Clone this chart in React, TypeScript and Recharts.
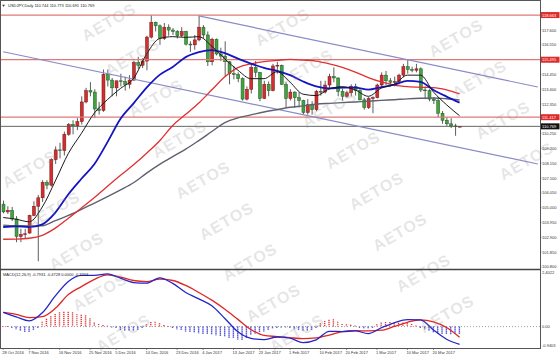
import React from 'react';
import { ComposedChart, Bar, Line, XAxis, YAxis, ReferenceLine } from 'recharts';

// USDJPY daily bars, 28 Oct 2016 .. 28 Mar 2017
const open = [105.25, 104.7, 104.8, 104.2, 102.95, 103.1, 103.2, 104.45, 105.1, 105.7, 106.8, 106.6, 108.4, 109.1, 109.05, 110.2, 110.9, 110.8, 111.1, 112.5, 113.3, 113.2, 112.0, 111.9, 114.45, 114.05, 113.5, 114.0, 113.95, 113.75, 114.05, 115.3, 115.1, 115.4, 117.1, 118.15, 117.9, 117.0, 117.8, 117.6, 117.5, 117.2, 117.5, 116.6, 116.55, 116.9, 117.8, 117.25, 115.35, 116.95, 115.9, 115.75, 115.35, 114.5, 114.45, 114.15, 112.7, 113.4, 114.95, 114.6, 112.75, 113.75, 113.3, 115.05, 115.1, 113.75, 112.75, 113.2, 112.8, 112.6, 111.75, 112.3, 111.95, 113.25, 113.2, 113.7, 114.3, 114.2, 113.25, 112.9, 113.15, 113.6, 113.3, 112.65, 112.1, 112.75, 112.8, 113.7, 114.4, 114.0, 113.9, 113.95, 114.4, 115.0, 114.8, 114.75, 114.85, 113.35, 113.3, 112.7, 112.6, 111.7, 111.2, 110.95, 110.8, 110.744];
const high = [105.5, 105.1, 105.05, 104.4, 103.5, 103.5, 104.5, 105.45, 105.9, 106.95, 106.95, 108.5, 109.35, 109.6, 110.4, 111.0, 111.2, 111.35, 112.9, 113.5, 113.9, 113.4, 112.5, 114.8, 114.8, 114.2, 114.0, 114.5, 114.3, 114.4, 115.4, 115.7, 115.6, 117.2, 118.66, 118.2, 118.0, 118.1, 118.0, 117.75, 117.6, 117.8, 117.55, 116.8, 117.25, 118.6, 117.95, 117.5, 117.05, 117.0, 116.35, 116.8, 115.4, 115.05, 114.6, 114.25, 113.6, 115.2, 115.4, 114.6, 114.0, 113.95, 115.2, 115.35, 115.15, 113.9, 113.4, 113.25, 113.2, 112.65, 112.7, 112.55, 113.35, 114.0, 114.0, 114.5, 114.95, 114.25, 113.45, 113.3, 113.75, 113.8, 113.4, 112.8, 112.85, 112.9, 113.8, 114.6, 114.7, 114.2, 114.3, 114.5, 115.2, 115.5, 115.0, 115.2, 114.95, 113.6, 113.4, 112.85, 112.8, 111.85, 111.4, 111.35, 110.95, 110.773];
const low = [104.6, 104.55, 104.05, 102.55, 102.55, 102.8, 103.15, 104.4, 101.2, 105.4, 106.3, 106.5, 108.1, 108.5, 108.7, 110.1, 110.2, 110.5, 110.9, 112.4, 112.9, 111.35, 111.6, 111.8, 113.6, 112.9, 112.9, 113.6, 113.3, 113.45, 114.0, 114.85, 114.9, 114.75, 117.0, 117.5, 116.55, 116.9, 117.2, 117.25, 117.0, 117.1, 116.5, 116.05, 116.2, 116.8, 117.0, 115.05, 115.1, 115.8, 115.4, 114.3, 113.75, 114.1, 113.9, 112.6, 112.6, 113.1, 114.25, 112.55, 112.7, 112.9, 113.25, 114.5, 113.7, 112.1, 112.6, 112.1, 112.1, 111.6, 111.6, 111.6, 111.85, 112.95, 113.1, 113.4, 113.9, 112.9, 112.6, 112.8, 112.9, 112.95, 112.6, 111.95, 112.0, 111.7, 112.75, 113.55, 113.7, 113.6, 113.6, 113.75, 114.25, 114.5, 114.6, 114.6, 113.2, 112.7, 112.55, 112.35, 111.4, 110.95, 110.8, 110.65, 110.1, 110.691];
const close = [104.7, 104.8, 104.2, 102.95, 103.1, 103.15, 104.45, 105.1, 105.7, 106.8, 106.6, 108.4, 109.1, 109.05, 110.2, 110.9, 110.8, 111.1, 112.5, 113.3, 113.2, 112.0, 111.9, 114.45, 114.05, 113.5, 114.0, 113.95, 113.75, 114.05, 115.3, 115.1, 115.4, 117.1, 118.15, 117.9, 117.0, 117.8, 117.6, 117.5, 117.2, 117.5, 116.6, 116.55, 116.9, 117.8, 117.25, 115.35, 116.95, 115.9, 115.75, 115.35, 114.5, 114.45, 114.15, 112.7, 113.4, 114.95, 114.6, 112.75, 113.75, 113.3, 115.05, 115.1, 113.75, 112.75, 113.2, 112.8, 112.6, 111.75, 112.3, 111.95, 113.25, 113.2, 113.7, 114.3, 114.2, 113.25, 112.9, 113.15, 113.6, 113.3, 112.65, 112.1, 112.75, 112.8, 113.7, 114.4, 114.0, 113.9, 113.95, 114.4, 115.0, 114.8, 114.75, 114.85, 113.35, 113.3, 112.7, 112.6, 111.7, 111.2, 110.95, 110.8, 110.74, 110.769];

// moving averages, read every third bar
const maStep = 3;
const maFast = [104.3, 104.18, 104.0, 105.05, 106.9, 108.85, 110.27, 111.72, 112.67, 113.46, 114.17, 115.9, 117.0, 117.13, 117.08, 117.13, 116.45, 115.55, 114.75, 114.15, 114.15, 114.64, 113.9, 113.05, 112.95, 113.42, 113.58, 113.35, 112.9, 113.48, 113.75, 114.4, 114.4, 113.2, 112.3, 111.52];
const maMid = [103.63, 103.68, 103.62, 103.82, 104.65, 105.95, 107.05, 108.1, 109.65, 111.3, 112.4, 113.52, 114.42, 114.98, 115.68, 116.03, 116.18, 115.96, 115.57, 115.22, 114.92, 114.71, 114.4, 113.95, 113.6, 113.46, 113.52, 113.52, 113.37, 113.55, 113.72, 114.0, 113.93, 113.35, 112.88, 112.45];
const maSlow = [102.76, 102.77, 102.83, 103.04, 103.55, 104.25, 104.98, 105.72, 106.52, 107.3, 108.04, 108.86, 109.75, 110.83, 111.62, 112.42, 113.36, 114.28, 114.93, 115.2, 115.36, 115.45, 115.52, 115.47, 115.4, 115.2, 114.95, 114.62, 114.23, 113.92, 113.7, 113.59, 113.54, 113.52, 113.36, 113.07];
const maLong = [103.76, 103.72, 103.71, 103.72, 104.08, 104.45, 104.88, 105.32, 105.78, 106.26, 106.77, 107.45, 108.07, 108.62, 109.15, 109.76, 110.4, 111.03, 111.37, 111.58, 111.79, 111.95, 112.12, 112.22, 112.34, 112.4, 112.45, 112.5, 112.55, 112.61, 112.66, 112.72, 112.76, 112.78, 112.73, 112.64];

// MACD(12,26,9)
const macdLine = [0.63, 0.43, 0.25, 0.61, 1.36, 2.0, 2.27, 2.27, 2.33, 2.14, 1.95, 1.92, 2.16, 1.91, 1.51, 1.23, 0.92, 0.36, -0.23, -0.52, -0.58, -0.46, -0.51, -0.71, -0.59, -0.21, -0.22, -0.19, -0.31, -0.05, 0.17, 0.31, 0.3, -0.15, -0.56, -0.79];
const signalLine = [0.63, 0.54, 0.4, 0.44, 0.81, 1.42, 1.77, 2.09, 2.29, 2.19, 2.04, 1.99, 2.1, 2.04, 1.82, 1.51, 1.17, 0.77, 0.32, -0.13, -0.39, -0.44, -0.49, -0.53, -0.5, -0.38, -0.22, -0.18, -0.19, -0.16, 0.01, 0.19, 0.3, 0.21, -0.04, -0.47];
const macdHist = [0.03, 0.02, -0.05, -0.12, -0.2, -0.26, -0.25, -0.15, -0.05, 0.22, 0.35, 0.46, 0.56, 0.63, 0.66, 0.66, 0.63, 0.55, 0.52, 0.5, 0.37, 0.18, 0.12, 0.07, 0.04, -0.02, -0.08, -0.15, -0.19, -0.2, -0.19, -0.15, -0.08, 0.1, 0.2, 0.22, 0.15, 0.07, 0.03, -0.07, -0.12, -0.16, -0.22, -0.25, -0.27, -0.29, -0.32, -0.33, -0.36, -0.38, -0.41, -0.45, -0.49, -0.52, -0.57, -0.59, -0.52, -0.37, -0.3, -0.25, -0.22, -0.17, -0.1, -0.05, -0.02, -0.03, -0.07, -0.12, -0.16, -0.19, -0.2, -0.15, -0.05, 0.15, 0.25, 0.3, 0.32, 0.22, 0.12, 0.1, 0.08, 0.05, -0.05, -0.1, -0.1, -0.05, 0.1, 0.18, 0.2, 0.2, 0.18, 0.17, 0.18, 0.18, 0.12, 0.05, -0.05, -0.12, -0.2, -0.27, -0.3, -0.33, -0.35, -0.36, -0.34, -0.32];

const dateTickBars = [0, 6, 13, 20, 26, 33, 40, 46, 53, 59, 66, 73, 79, 86, 93, 99];
const dateTicks = ['28 Oct 2016', '7 Nov 2016', '16 Nov 2016', '25 Nov 2016', '5 Dec 2016', '14 Dec 2016', '23 Dec 2016', '4 Jan 2017', '13 Jan 2017', '23 Jan 2017', '1 Feb 2017', '10 Feb 2017', '20 Feb 2017', '1 Mar 2017', '10 Mar 2017', '20 Mar 2017'];

const priceTicks = [117.6, 116.55, 114.45, 113.4, 112.35, 110.25, 109.2, 108.15, 107.1, 106.05, 105.0, 103.95, 102.9, 101.85, 100.8];
const levels = [118.663, 115.495, 111.417];
const lastPrice = 110.769;
const channelUpper = [{ bar: 45, price: 118.6 }, { bar: 123, price: 113.56 }];
const channelLower = [{ bar: 0, price: 116.06 }, { bar: 123, price: 108.1 }];
const macdTicks = [2.4022, 0, -0.9403];

const totalSlots = 124; // bars plus the empty shift area on the right

const rows = Array.from({ length: totalSlots }, (_, i) => {
  const has = i < close.length;
  const m = i % maStep === 0 ? i / maStep : -1;
  const pick = (arr: number[]) => (m >= 0 && m < arr.length ? arr[m] : null);
  return {
    i,
    range: has ? [low[i], high[i]] : null,
    o: has ? open[i] : null,
    h: has ? high[i] : null,
    l: has ? low[i] : null,
    c: has ? close[i] : null,
    fast: pick(maFast),
    mid: pick(maMid),
    slow: pick(maSlow),
    long: pick(maLong),
    macd: pick(macdLine),
    sig: pick(signalLine),
    hist: has ? macdHist[i] : null,
  };
});

const FONT = '"Liberation Sans", Arial, sans-serif';

const Candle = (props: any) => {
  const { x, y, width, height, payload } = props;
  if (!payload || payload.o == null) return null;
  const { o, h, l, c } = payload;
  const ppu = h - l > 0 ? height / (h - l) : 0;
  const yO = y + (h - o) * ppu;
  const yC = y + (h - c) * ppu;
  const cx = x + width / 2;
  const up = c >= o;
  const top = Math.min(yO, yC);
  const bh = Math.max(Math.abs(yC - yO), 0.8);
  return (
    <g>
      <line x1={cx} x2={cx} y1={y} y2={y + height} stroke="#333" strokeWidth={0.8} />
      <rect x={cx - 1.5} y={top} width={3} height={bh}
        fill={up ? '#cf2f2f' : '#43a043'} stroke={up ? '#7a1414' : '#1f5c1f'} strokeWidth={0.5} />
    </g>
  );
};

const HistBar = (props: any) => {
  const { x, y, width, height, payload } = props;
  if (!payload || payload.hist == null) return null;
  const y1 = Math.min(y, y + height);
  const y2 = Math.max(y, y + height, y1 + 0.8);
  const cx = x + width / 2;
  return (
    <line x1={cx} x2={cx} y1={y1} y2={y2}
      stroke={payload.hist >= 0 ? '#e03535' : '#2b2bd0'} strokeWidth={1.4} strokeDasharray="1.2 0.8" />
  );
};

const PriceTick = (props: any) => {
  const { x, y, payload } = props;
  const v = payload.value;
  const isLevel = levels.includes(v);
  const isLast = v === lastPrice;
  if (isLevel || isLast) {
    return (
      <g>
        <rect x={540.5} y={y - 3} width={19} height={6} fill={isLast ? '#111' : '#e02a2a'} />
        <text x={542} y={y} dy={1.5} fontSize={4} fill="#fff" fontFamily={FONT}>{v.toFixed(3)}</text>
      </g>
    );
  }
  return (
    <g>
      <line x1={540} x2={541.5} y1={y} y2={y} stroke="#444" strokeWidth={0.6} />
      <text x={x} y={y} dy={1.5} fontSize={4} fill="#333" fontFamily={FONT}>{v.toFixed(3)}</text>
    </g>
  );
};

const MacdTick = (props: any) => {
  const { x, y, payload } = props;
  const v = payload.value;
  const label = v === 0 ? '0.00' : v.toFixed(4);
  const dy = v < 0 ? -1 : 1.5;
  return (
    <text x={x} y={y} dy={dy} fontSize={4} fill="#333" fontFamily={FONT}>{label}</text>
  );
};

const DateTick = (props: any) => {
  const { x, y, payload } = props;
  const k = dateTickBars.indexOf(payload.value);
  return (
    <g>
      <line x1={x} x2={x} y1={y - 2} y2={y} stroke="#444" strokeWidth={0.6} />
      <text x={x - 1} y={y + 3.5} fontSize={4} fill="#333" fontFamily={FONT}>{k >= 0 ? dateTicks[k] : ''}</text>
    </g>
  );
};

// faint broker watermark, tiled diagonally
const Watermark = () => {
  const marks: JSX.Element[] = [];
  for (let j = -2; j <= 3; j++) {
    for (let k = -7; k <= 7; k++) {
      const cx = 203 + 150 * j + 23.5 * k;
      const raw = 180 - 30 * j + 41 * k;
      if (cx < 15 || cx > 545 || raw < 10 || raw > 350) continue;
      const cy = Math.min(Math.max(raw, 22), 333);
      marks.push(
        <text key={`${j}-${k}`} x={cx} y={cy} transform={`rotate(-30 ${cx} ${cy})`}
          textAnchor="middle" dominantBaseline="central" fontSize={16} fontWeight="bold"
          fontFamily={FONT} fill="#8c8c8c" fillOpacity={0.22} letterSpacing={1}>AETOS</text>
      );
    }
  }
  return <g>{marks}</g>;
};

export default function App() {
  return (
    <div style={{ position: 'absolute', left: 0, top: 0, width: 560, height: 359, background: '#fff', overflow: 'hidden', fontFamily: FONT }}>
      <div style={{ position: 'absolute', left: 0, top: 0 }}>
        <ComposedChart width={560} height={270} data={rows} margin={{ top: 1, right: 0, bottom: 1, left: 1 }} barCategoryGap={0}>
          <XAxis dataKey="i" type="category" hide />
          <YAxis orientation="right" width={20} domain={[100.65, 119.66]} allowDataOverflow
            ticks={[...priceTicks, ...levels, lastPrice]} interval={0} tick={<PriceTick />}
            axisLine={false} tickLine={false} tickSize={0} tickMargin={2} />
          {levels.map((v) => (
            <ReferenceLine key={v} y={v} stroke="#e07878" strokeWidth={1.2} />
          ))}
          <ReferenceLine y={lastPrice} stroke="#555" strokeWidth={0.9} />
          <ReferenceLine segment={channelUpper.map((p) => ({ x: p.bar, y: p.price }))} stroke="#8a8ac8" strokeWidth={1.2} />
          <ReferenceLine segment={channelLower.map((p) => ({ x: p.bar, y: p.price }))} stroke="#8a8ac8" strokeWidth={1.2} />
          <Line dataKey="long" type="monotone" stroke="#5f6070" strokeWidth={1.4} dot={false} connectNulls isAnimationActive={false} />
          <Line dataKey="slow" type="monotone" stroke="#e03030" strokeWidth={1.3} dot={false} connectNulls isAnimationActive={false} />
          <Bar dataKey="range" barSize={3} shape={(p: any) => <Candle {...p} />} isAnimationActive={false} />
          <Line dataKey="mid" type="monotone" stroke="#1515c0" strokeWidth={1.8} dot={false} connectNulls isAnimationActive={false} />
          <Line dataKey="fast" type="monotone" stroke="#1a1a1a" strokeWidth={1} dot={false} connectNulls isAnimationActive={false} />
        </ComposedChart>
      </div>
      <div style={{ position: 'absolute', left: 0, top: 269 }}>
        <ComposedChart width={560} height={90} data={rows} margin={{ top: 2, right: 0, bottom: 0, left: 1 }} barCategoryGap={0}>
          <XAxis dataKey="i" type="category" height={11} ticks={dateTickBars} interval={0} tick={<DateTick />}
            axisLine={false} tickLine={false} tickSize={2} tickMargin={0} />
          <YAxis orientation="right" width={20} domain={[-0.947, 2.46]} allowDataOverflow
            ticks={macdTicks} interval={0} tick={<MacdTick />} axisLine={false} tickLine={false} tickSize={0} tickMargin={2} />
          <ReferenceLine y={0} stroke="#888" strokeWidth={0.8} strokeDasharray="1 2" />
          <Bar dataKey="hist" barSize={2} shape={(p: any) => <HistBar {...p} />} isAnimationActive={false} />
          <Line dataKey="sig" type="monotone" stroke="#e02525" strokeWidth={1.3} dot={false} connectNulls isAnimationActive={false} />
          <Line dataKey="macd" type="monotone" stroke="#2525c8" strokeWidth={1.3} dot={false} connectNulls isAnimationActive={false} />
        </ComposedChart>
      </div>
      <svg width={560} height={359} style={{ position: 'absolute', left: 0, top: 0, pointerEvents: 'none' }}>
        <Watermark />
        <rect x={0.5} y={0.5} width={540} height={348} fill="none" stroke="#555" strokeWidth={1} />
        <line x1={0} x2={541} y1={269.5} y2={269.5} stroke="#444" strokeWidth={1.5} />
        <text x={1.5} y={6.5} fontSize={4} fill="#222" fontFamily={FONT}>▼</text>
        <text x={8} y={6.5} fontSize={4} fill="#222" fontFamily={FONT}>USDJPY,Daily  110.744 110.773 110.691 110.769</text>
        <text x={3} y={276} fontSize={4} fill="#222" fontFamily={FONT}>MACD(12,26,9) -0.7931 -0.4728 0.0000 -0.3203</text>
      </svg>
    </div>
  );
}
